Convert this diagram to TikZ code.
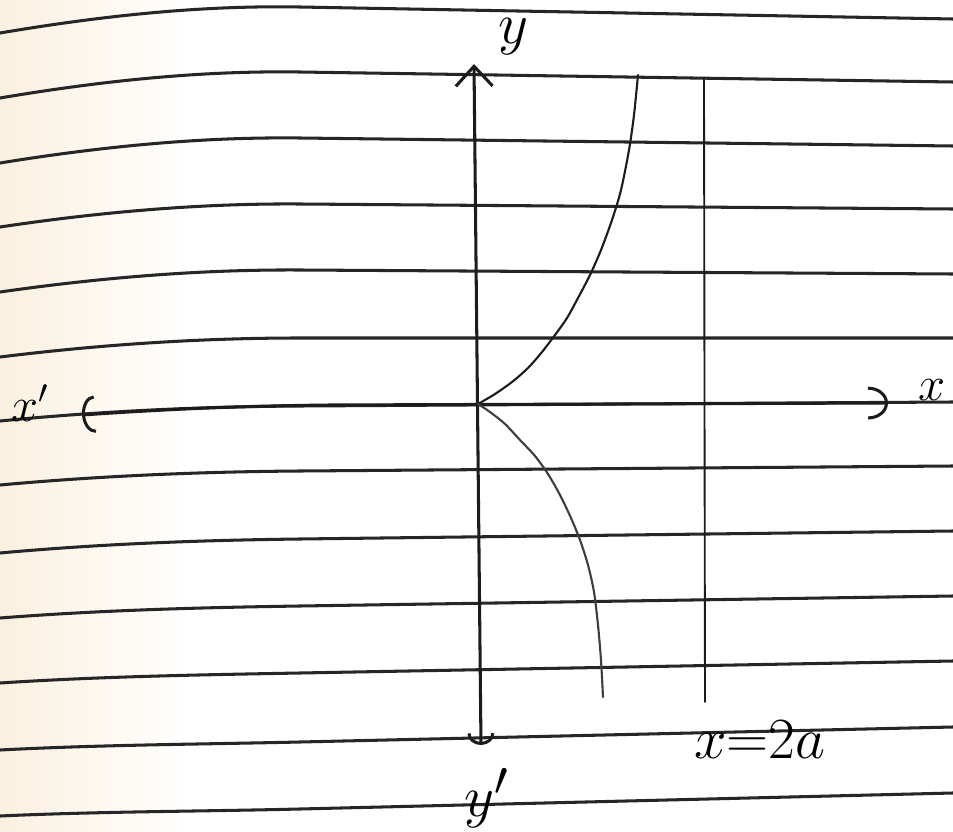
\documentclass[tikz,border=0pt]{standalone}
\usepackage{tikz}
\usetikzlibrary{arrows.meta}
\definecolor{papertint}{RGB}{250,240,224}
\definecolor{pencil}{RGB}{28,28,28}

\begin{document}
\begin{tikzpicture}[x=0.15mm, y=-0.15mm, line cap=round,
  ruled/.style={black!85, line width=1.3pt},
  axis/.style={pencil, line width=1.3pt},
  branch/.style={pencil, line width=0.9pt},
  lbl/.style={inner sep=0pt, font=\Huge}]
  \useasboundingbox (0,0) rectangle (953,832);

  % paper
  \fill[white] (0,0) rectangle (953,832);
  \shade[left color=papertint, right color=white] (0,0) rectangle (190,832);

  % ruled lines of the notebook
  \foreach \yl/\ym/\yr in {33/7/19, 98/72/82, 163/138/146, 227/204/209,
      292/270/274, 357/338/338, 421/406/402, 485/471/466, 553/539/531,
      618/606/596, 683/673/661, 750/742/727, 816/809/793}
    \draw[ruled] (0,\yl) .. controls (100,{\yl-0.65*(\yl-\ym)})
      and (200,{\ym-0.153*(\yr-\ym)}) .. (300,\ym) -- (953,\yr);

  % axes
  \coordinate (O) at (478,404);
  \coordinate (xl) at (82,415);
  \coordinate (xr) at (888,403);
  \coordinate (yt) at (474,64);
  \coordinate (yb) at (481,745);
  \draw[axis, {Arc Barb[length=5.5pt, width=16pt]}-{Arc Barb[length=8.5pt, width=14pt]}]
    (xl) .. controls (170,409) and (240,406) .. (330,405) -- (xr);
  \draw[axis, {Arc Barb[length=5pt, width=11.5pt]}-{Straight Barb[length=8.5pt, width=15.7pt]}]
    (yb) -- (yt);

  % asymptote x = 2a
  \coordinate (asyTop) at (704,79);
  \coordinate (asyBot) at (705,702);
  \draw[pencil, line width=0.8pt] (asyTop) -- (asyBot);

  % cissoid, upper branch
  \draw[branch] plot[smooth] coordinates {
    (O)(495,394)(512,382)(528,368)(542,352)(555,335)(567,318)
    (578,298)(590,275)(601,250)(612,220)(621,190)(629,150)
    (634,115)(638,75)};
  % lower branch
  \draw[branch, pencil!85] plot[smooth] coordinates {
    (O)(490,412)(505,424)(520,440)(535,456)(548,474)(560,495)
    (571,518)(580,540)(588,565)(594,592)(598,625)(601,660)(603,697)};

  % labels
  \node[lbl] (ylab) at (513,37) {$y$};
  \node[lbl] (yplab) at (487,798) {$y'$};
  \node[lbl, font=\huge] (xlab) at (932,390) {$x$};
  \node[lbl, font=\huge] (xplab) at (30,403) {$x'$};
  \node[lbl] (asylab) at (760,740) {$x{=}2a$};
\end{tikzpicture}
\end{document}
